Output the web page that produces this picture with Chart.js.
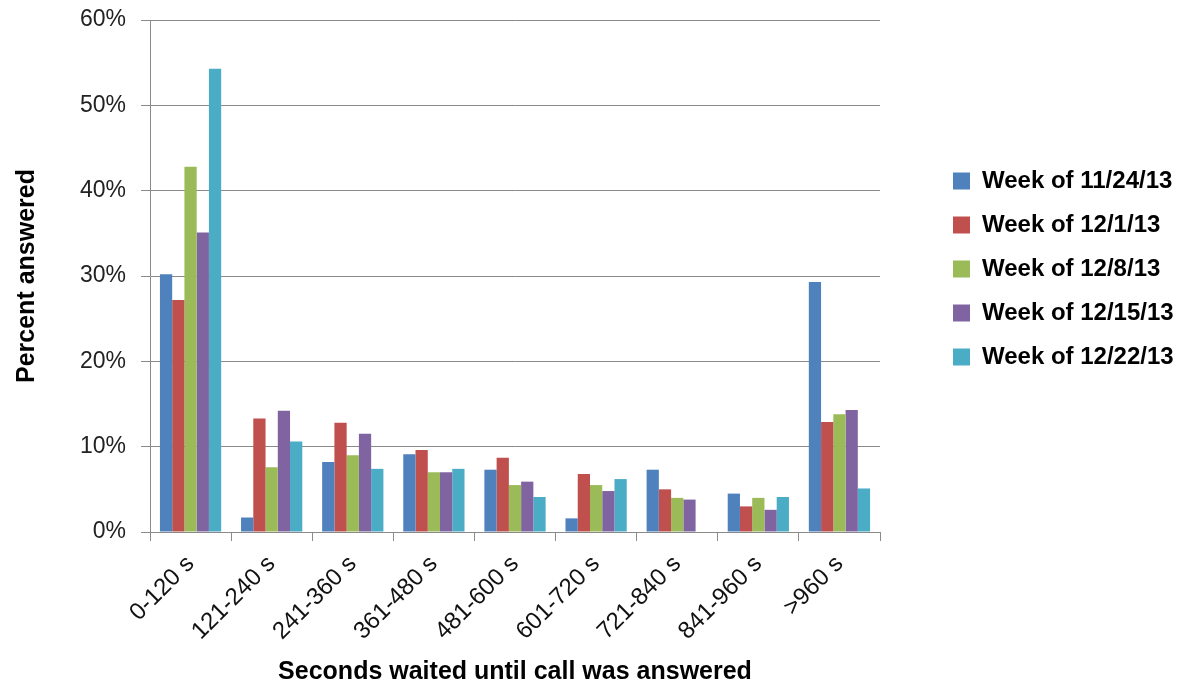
<!DOCTYPE html>
<html>
<head>
<meta charset="utf-8">
<script src="https://cdn.jsdelivr.net/npm/chart.js@4"></script>
<style>
  html, body { margin: 0; padding: 0; background: #ffffff; }
  #wrap { width: 1182px; height: 688px; position: relative; }
</style>
</head>
<body>
<div id="wrap"><canvas id="c" width="1182" height="688"></canvas></div>
<script>
// Waiting-time buckets
const categories = ['0-120 s', '121-240 s', '241-360 s', '361-480 s', '481-600 s',
                    '601-720 s', '721-840 s', '841-960 s', '>960 s'];

// Share of calls answered in each bucket (percent)
const week1124 = [30.2, 1.7, 8.2, 9.1, 7.3, 1.6, 7.3, 4.5, 29.3];
const week121  = [27.2, 13.3, 12.8, 9.6, 8.7, 6.8, 5.0, 3.0, 12.9];
const week128  = [42.8, 7.6, 9.0, 7.0, 5.5, 5.5, 4.0, 4.0, 13.8];
const week1215 = [35.1, 14.2, 11.5, 7.0, 5.9, 4.8, 3.8, 2.6, 14.3];
const week1222 = [54.3, 10.6, 7.4, 7.4, 4.1, 6.2, null, 4.1, 5.1];

const seriesNames = ['Week of 11/24/13', 'Week of 12/1/13', 'Week of 12/8/13',
                     'Week of 12/15/13', 'Week of 12/22/13'];
const seriesValues = [week1124, week121, week128, week1215, week1222];
const seriesColors = ['#4F81BD', '#C0504D', '#9BBB59', '#8064A2', '#4BACC6'];

const yTicks = [0, 10, 20, 30, 40, 50, 60];

const FONT = "'Liberation Sans', Arial, sans-serif";
const GRID = '#8a8a8a';

// Reserve a fixed strip on the right for the legend and place its items
const legendPlacement = {
  id: 'legendPlacement',
  beforeInit(chart) {
    const fit = chart.legend.fit;
    chart.legend.fit = function () {
      fit.call(this);
      this.width = 302;
    };
  },
  afterLayout(chart) {
    const lg = chart.legend;
    lg.left = 933;
    lg.right = 1182;
    lg.top = -150;
    lg.bottom = 688;
  }
};

new Chart(document.getElementById('c'), {
  type: 'bar',
  data: {
    labels: categories,
    datasets: seriesNames.map((name, i) => ({
      label: name,
      data: seriesValues[i],
      backgroundColor: seriesColors[i],
      borderWidth: 0,
      categoryPercentage: 0.755,
      barPercentage: 1.0
    }))
  },
  plugins: [legendPlacement],
  options: {
    responsive: false,
    animation: false,
    layout: { padding: { top: 20, left: 0, right: 0, bottom: 0 } },
    plugins: {
      tooltip: { enabled: false },
      legend: {
        position: 'right',
        labels: {
          font: { family: FONT, size: 24, weight: 'bold' },
          color: '#000000',
          boxWidth: 17,
          boxHeight: 17,
          padding: 20
        }
      }
    },
    scales: {
      x: {
        afterFit(scale) {
          scale.height = 156;
          scale.paddingLeft = 0;
          scale.paddingRight = 0;
        },
        border: { display: true, color: GRID, width: 1 },
        grid: { display: true, drawOnChartArea: false, drawTicks: true, tickLength: 9, color: GRID, offset: true },
        ticks: {
          font: { family: FONT, size: 24 },
          color: '#111111',
          minRotation: 45,
          maxRotation: 45,
          padding: 9,
          autoSkip: false
        },
        title: {
          display: true,
          text: 'Seconds waited until call was answered',
          font: { family: FONT, size: 25, weight: 'bold' },
          color: '#000000',
          padding: { top: 0, bottom: 1 }
        }
      },
      y: {
        min: 0,
        max: 60,
        afterFit(scale) {
          scale.width = 150;
          scale.paddingTop = 0;
          scale.paddingBottom = 0;
        },
        afterBuildTicks(scale) { scale.ticks = yTicks.map(v => ({ value: v })); },
        border: { display: true, color: GRID, width: 1 },
        grid: { color: GRID, lineWidth: 1, drawTicks: true, tickLength: 9 },
        ticks: {
          font: { family: FONT, size: 23 },
          color: '#222222',
          padding: 15,
          callback: v => v + '%'
        },
        title: {
          display: true,
          text: 'Percent answered',
          font: { family: FONT, size: 25, weight: 'bold' },
          color: '#000000',
          padding: { top: 12, bottom: 0 }
        }
      }
    }
  }
});
</script>
</body>
</html>
